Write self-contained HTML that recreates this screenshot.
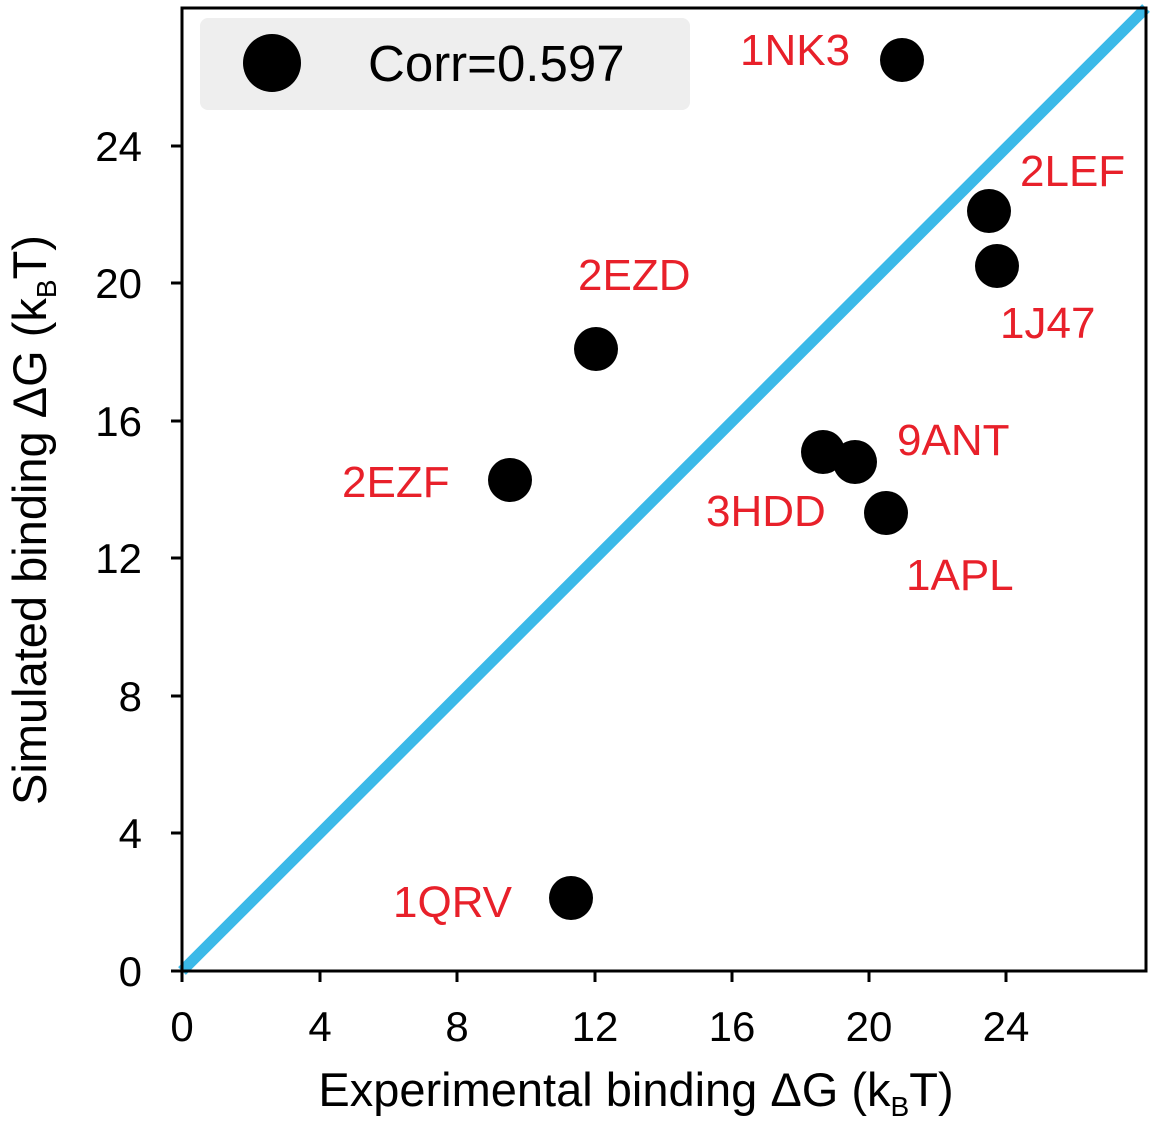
<!DOCTYPE html>
<html><head><meta charset="utf-8"><style>
html,body{margin:0;padding:0;background:#fff;}
svg{display:block;font-family:"Liberation Sans",Arial,sans-serif;}
</style></head><body>
<svg width="1154" height="1143" viewBox="0 0 1154 1143" xmlns="http://www.w3.org/2000/svg">
<rect width="1154" height="1143" fill="#fff"/>
<line x1="182" y1="971" x2="1146" y2="8" stroke="#3BB9E8" stroke-width="11"/>
<rect x="200" y="18" width="490" height="92" rx="8" fill="#eeeeee"/>
<circle cx="272" cy="63" r="29" fill="#000"/>
<text x="368" y="81" font-size="51" fill="#000">Corr=0.597</text>
<g fill="#000">
<circle cx="902" cy="60" r="22"/>
<circle cx="989" cy="211" r="22"/>
<circle cx="997" cy="266" r="22"/>
<circle cx="596" cy="349" r="22"/>
<circle cx="510" cy="480" r="22"/>
<circle cx="823" cy="452" r="22"/>
<circle cx="855" cy="462" r="22"/>
<circle cx="886" cy="513" r="22"/>
<circle cx="571" cy="898" r="22"/>
</g>
<g fill="#e8202a" font-size="44">
<text x="740" y="65">1NK3</text>
<text x="1020" y="186">2LEF</text>
<text x="1000" y="338">1J47</text>
<text x="578" y="290">2EZD</text>
<text x="342" y="497">2EZF</text>
<text x="706" y="526">3HDD</text>
<text x="897" y="455">9ANT</text>
<text x="906" y="590">1APL</text>
<text x="393" y="917">1QRV</text>
</g>
<rect x="182" y="8" width="964" height="963" fill="none" stroke="#000" stroke-width="3"/>
<g stroke="#000" stroke-width="3">
<line x1="182" y1="971" x2="182" y2="982"/><line x1="320" y1="971" x2="320" y2="982"/>
<line x1="457" y1="971" x2="457" y2="982"/><line x1="595" y1="971" x2="595" y2="982"/>
<line x1="732" y1="971" x2="732" y2="982"/><line x1="869" y1="971" x2="869" y2="982"/>
<line x1="1006" y1="971" x2="1006" y2="982"/>
<line x1="171" y1="971" x2="182" y2="971"/><line x1="171" y1="833" x2="182" y2="833"/>
<line x1="171" y1="696" x2="182" y2="696"/><line x1="171" y1="558" x2="182" y2="558"/>
<line x1="171" y1="421" x2="182" y2="421"/><line x1="171" y1="283" x2="182" y2="283"/>
<line x1="171" y1="146" x2="182" y2="146"/>
</g>
<g font-size="42" fill="#000" text-anchor="middle">
<text x="182" y="1041">0</text><text x="320" y="1041">4</text><text x="457" y="1041">8</text>
<text x="595" y="1041">12</text><text x="732" y="1041">16</text><text x="869" y="1041">20</text>
<text x="1006" y="1041">24</text>
</g>
<g font-size="42" fill="#000" text-anchor="end">
<text x="142" y="986">0</text><text x="142" y="848">4</text><text x="142" y="711">8</text>
<text x="142" y="573">12</text><text x="142" y="436">16</text><text x="142" y="298">20</text>
<text x="142" y="161">24</text>
</g>
<text x="636" y="1106" font-size="47" text-anchor="middle">Experimental binding ΔG (k<tspan font-size="28" dy="10">B</tspan><tspan dy="-10">T)</tspan></text>
<text transform="translate(46,520) rotate(-90)" font-size="47" text-anchor="middle">Simulated binding ΔG (k<tspan font-size="28" dy="10">B</tspan><tspan dy="-10">T)</tspan></text>
</svg>
</body></html>
